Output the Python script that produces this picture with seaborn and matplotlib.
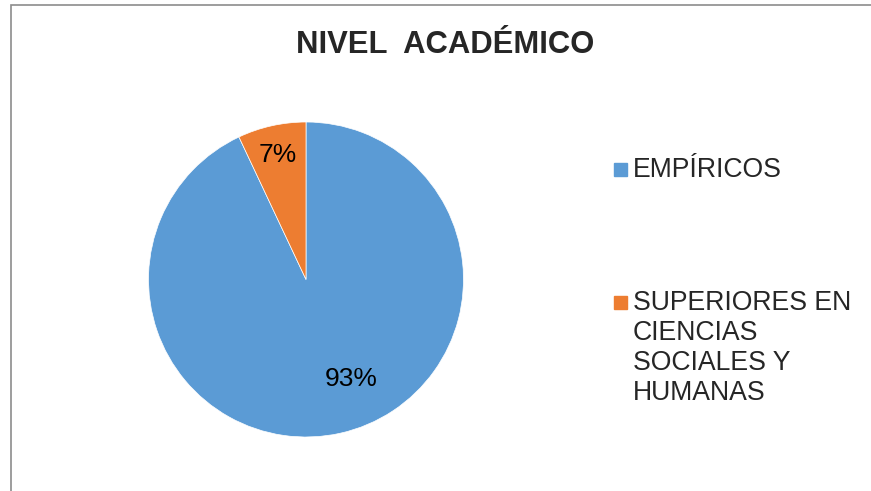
import matplotlib
matplotlib.use('Agg')
import matplotlib.pyplot as plt
import matplotlib.patches as mpatches
import seaborn as sns

# data
categories = ['EMPÍRICOS', 'SUPERIORES EN\nCIENCIAS\nSOCIALES Y\nHUMANAS']
shares = [93, 7]
colors = ['#5B9BD5', '#ED7D31']
title = 'NIVEL  ACADÉMICO'

sns.set_theme(style='white')
plt.rcParams['font.family'] = ['Liberation Sans', 'DejaVu Sans']

fig = plt.figure(figsize=(8.71, 4.91), dpi=100)
W, H = 871, 491

# pie area: centre (306, 279.5) px, radius 157.5 px
cx, cy, r = 306, 279.5, 157.5
ax = fig.add_axes([(cx - r) / W, 1 - (cy + r) / H, 2 * r / W, 2 * r / H])
wedges, texts, autotexts = ax.pie(
    shares, colors=colors, startangle=90, counterclock=False,
    autopct='%1.0f%%', pctdistance=0.8,
    wedgeprops=dict(edgecolor='white', linewidth=0.5),
    textprops=dict(fontsize=19, color='black'))
ax.set_xlim(-1, 1)
ax.set_ylim(-1, 1)
ax.set_aspect('equal')
ax.axis('off')

# Excel "best fit" label spots
autotexts[0].set_position((0.29, -0.632))
autotexts[1].set_position((-0.178, 0.79))

fig.text(445 / W, 1 - 53 / H, title, ha='center', va='baseline',
         fontsize=22.3, fontweight='bold')

# legend drawn by hand to follow the Excel layout
first_base = [177, 310]
pitch = 30
for lab, col, y in zip(categories, colors, first_base):
    fig.patches.append(mpatches.Rectangle((614 / W, 1 - (y - 1) / H), 13 / W, 13 / H,
                                          transform=fig.transFigure, color=col))
    last = y + pitch * lab.count('\n')
    fig.text(633 / W, 1 - last / H, lab, ha='left', va='baseline',
             fontsize=19.2, linespacing=1.2)

# chart frame (only top and left edges visible)
fig.patches.append(mpatches.Rectangle((11 / W, -0.1), 1.2, 1.1 - 5 / H,
                                      transform=fig.transFigure, fill=False,
                                      edgecolor='#8c8c8c', linewidth=1.2))

fig.savefig('out.png', dpi=100)
